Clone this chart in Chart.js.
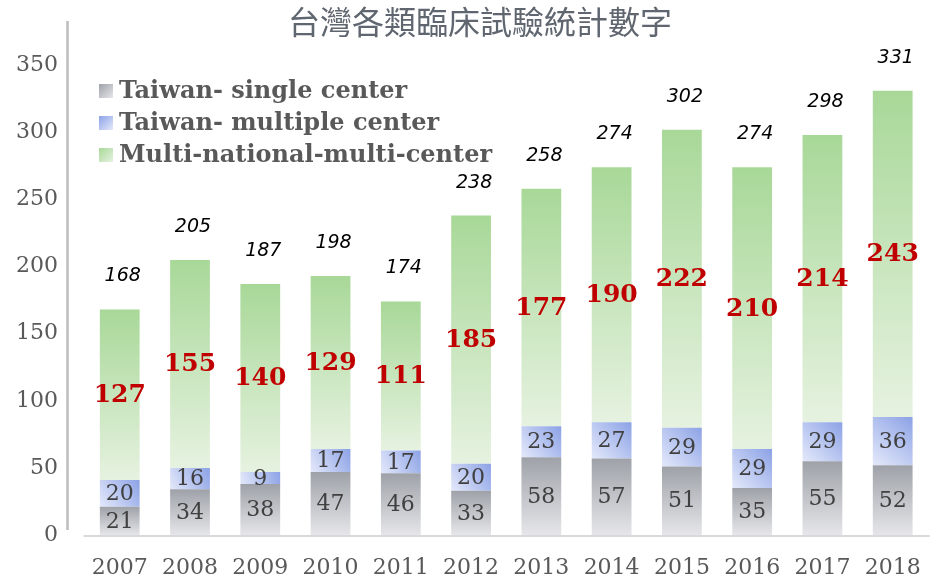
<!DOCTYPE html>
<html>
<head>
<meta charset="utf-8">
<script src="https://cdn.jsdelivr.net/npm/chart.js@4/dist/chart.umd.min.js"></script>
<style>
html,body{margin:0;padding:0;background:#fff;}
#wrap{width:941px;height:580px;position:relative;}
</style>
</head>
<body>
<div id="wrap"><canvas id="c" width="941" height="580"></canvas></div>
<script>
// ---- data ----
const title = '台灣各類臨床試驗統計數字';
const years = ['2007','2008','2009','2010','2011','2012','2013','2014','2015','2016','2017','2018'];
const seriesNames = ['Taiwan- single center', 'Taiwan- multiple center', 'Multi-national-multi-center'];
const singleCenter   = [21, 34, 38, 47, 46, 33, 58, 57, 51, 35, 55, 52];
const multipleCenter = [20, 16,  9, 17, 17, 20, 23, 27, 29, 29, 29, 36];
const multiNational  = [127,155,140,129,111,185,177,190,222,210,214,243];
const totalLabels    = [168,205,187,198,174,238,258,274,302,274,298,331];
const yTicks = [0, 50, 100, 150, 200, 250, 300, 350];

// ---- styles ----
const gradStops = [
  { top: '#9ea2a8', bottom: '#e6e6ea', diag: false },
  { top: '#8ca2e6', bottom: '#e4e9fa', diag: true },
  { top: '#a8d898', bottom: '#e6f2e0', diag: false }
];
const allSeries = [singleCenter, multipleCenter, multiNational];

function segGradient(ctx) {
  const chart = ctx.chart;
  const ds = ctx.datasetIndex, i = ctx.dataIndex;
  const g = gradStops[ds];
  if (!chart.chartArea || i === undefined || !chart.scales.y) return g.top;
  let base = 0;
  for (let k = 0; k < ds; k++) base += allSeries[k][i];
  const top = base + allSeries[ds][i];
  const ys = chart.scales.y, xs = chart.scales.x;
  const yTop = ys.getPixelForValue(top), yBot = ys.getPixelForValue(base);
  const c = chart.ctx;
  let grad;
  if (g.diag) {
    const xc = xs.getPixelForValue(i);
    grad = c.createLinearGradient(xc - 20, yBot, xc + 20, yTop);
    grad.addColorStop(0, g.bottom);
    grad.addColorStop(1, g.top);
  } else {
    grad = c.createLinearGradient(0, yTop, 0, yBot);
    grad.addColorStop(0, g.top);
    grad.addColorStop(1, g.bottom);
  }
  return grad;
}

const decorPlugin = {
  id: 'decor',
  beforeDatasetsDraw(chart) {
    const c = chart.ctx;
    const ys = chart.scales.y;
    const y0 = ys.getPixelForValue(0);
    c.save();
    // y axis line
    c.strokeStyle = '#bdbdbd';
    c.lineWidth = 2.5;
    c.beginPath();
    c.moveTo(67.5, chart.chartArea.top);
    c.lineTo(67.5, y0 - 5);
    c.stroke();
    // x axis line
    c.strokeStyle = '#d9d9d9';
    c.lineWidth = 2;
    c.beginPath();
    c.moveTo(chart.chartArea.left - 1, y0 + 1);
    c.lineTo(chart.chartArea.right + 2, y0 + 1);
    c.stroke();
    c.restore();
  },
  afterDatasetsDraw(chart) {
    const c = chart.ctx;
    c.save();
    c.textAlign = 'center';
    c.textBaseline = 'middle';
    chart.data.datasets.forEach((ds, di) => {
      const meta = chart.getDatasetMeta(di);
      meta.data.forEach((el, i) => {
        const cy = (el.y + el.base) / 2;
        if (di === 2) {
          c.font = 'bold 25px "DejaVu Serif"';
          c.fillStyle = '#c00000';
        } else {
          c.font = '22px "DejaVu Serif"';
          c.fillStyle = '#404040';
        }
        c.fillText(String(ds.data[i]), el.x, cy + 1);
      });
    });
    // totals
    const lastMeta = chart.getDatasetMeta(2);
    c.font = 'italic 19px "DejaVu Sans"';
    c.fillStyle = '#000000';
    lastMeta.data.forEach((el, i) => {
      c.fillText(String(totalLabels[i]), el.x + 3, el.y - 33);
    });
    c.restore();
  },
  afterDraw(chart) {
    const c = chart.ctx;
    c.save();
    // title
    c.font = '32px "Noto Sans CJK TC"';
    c.fillStyle = '#5f6670';
    c.textAlign = 'center';
    c.textBaseline = 'middle';
    c.fillText(title, 480, 22);
    // legend
    c.textAlign = 'left';
    c.font = 'bold 24px "DejaVu Serif"';
    seriesNames.forEach((name, k) => {
      const cy = 91 + k * 32;
      const g = gradStops[k];
      const grad = c.createLinearGradient(99, cy - 7, 113, cy + 7);
      grad.addColorStop(0, g.top);
      grad.addColorStop(1, g.bottom);
      c.fillStyle = grad;
      c.fillRect(99, cy - 7, 14, 14);
      c.fillStyle = '#595959';
      c.fillText(name, 119, cy + 1);
    });
    c.restore();
  }
};

const chart = new Chart(document.getElementById('c'), {
  type: 'bar',
  data: {
    labels: years,
    datasets: [
      { label: seriesNames[0], data: singleCenter, backgroundColor: segGradient },
      { label: seriesNames[1], data: multipleCenter, backgroundColor: segGradient },
      { label: seriesNames[2], data: multiNational, backgroundColor: segGradient }
    ]
  },
  options: {
    responsive: false,
    animation: false,
    devicePixelRatio: 1,
    layout: { padding: { top: 21, right: 7.4, left: 0, bottom: 0 } },
    datasets: { bar: { categoryPercentage: 1, barPercentage: 0.566, borderWidth: 0 } },
    plugins: { legend: { display: false }, title: { display: false }, tooltip: { enabled: false } },
    scales: {
      x: {
        stacked: true,
        offset: true,
        grid: { display: false, drawTicks: false },
        border: { display: false },
        ticks: { color: '#595959', font: { family: 'DejaVu Serif', size: 22 }, padding: 20, maxRotation: 0, autoSkip: false },
        afterFit(scale) { scale.height = 45; }
      },
      y: {
        stacked: true,
        min: 0,
        max: 383,
        grid: { display: false, drawTicks: true, tickLength: 22.6 },
        border: { display: false },
        afterBuildTicks(scale) { scale.ticks = yTicks.map(v => ({ value: v })); },
        ticks: { color: '#595959', font: { family: 'DejaVu Serif', size: 22 }, padding: 4 },
        afterFit(scale) { scale.width = 84.6; }
      }
    }
  },
  plugins: [decorPlugin]
});
</script>
</body>
</html>
